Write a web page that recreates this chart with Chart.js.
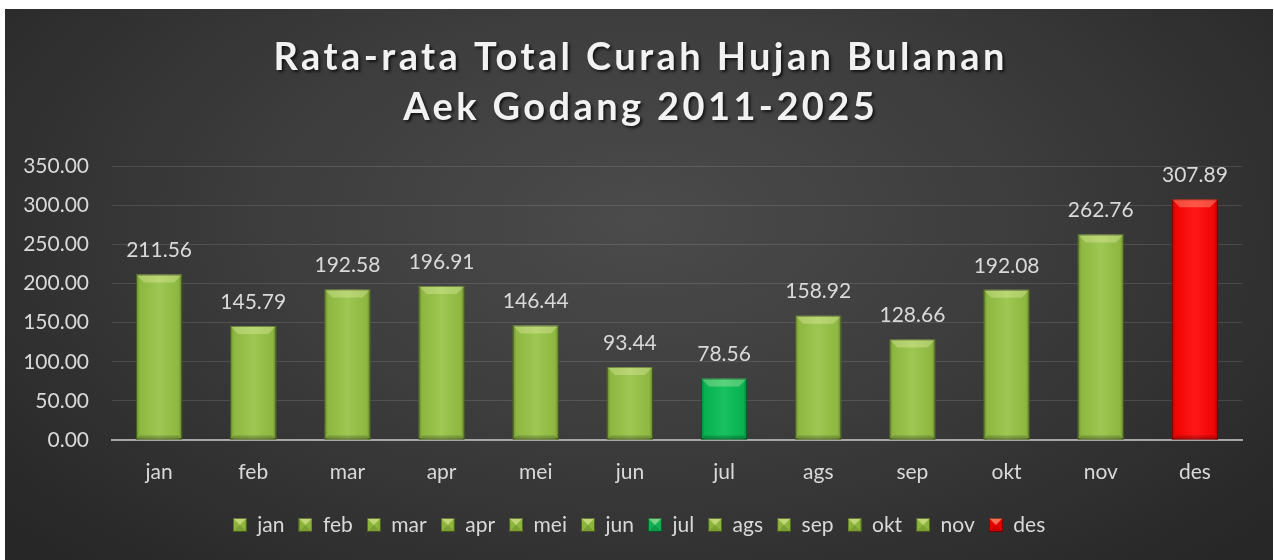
<!DOCTYPE html>
<html><head><meta charset="utf-8">
<script src="https://cdn.jsdelivr.net/npm/chart.js@4.4.1/dist/chart.umd.min.js"></script>
<style>
html,body{margin:0;padding:0;background:#fff;width:1274px;height:560px;overflow:hidden}
#box{position:absolute;left:5px;top:9px;width:1268px;height:551px;background:radial-gradient(ellipse 65% 85% at 50% 38%, #4b4b4b 0%, #3d3d3d 45%, #272727 100%)}
canvas{display:block}
</style></head><body>
<div id="box"><canvas id="c" width="1268" height="551"></canvas></div>
<script>
const titleLines = ['Rata-rata Total Curah Hujan Bulanan', 'Aek Godang 2011-2025'];
const categories = ['jan','feb','mar','apr','mei','jun','jul','ags','sep','okt','nov','des'];
const values = [211.56,145.79,192.58,196.91,146.44,93.44,78.56,158.92,128.66,192.08,262.76,307.89];
const barColors = ['#97c346','#97c346','#97c346','#97c346','#97c346','#97c346','#08bd55','#97c346','#97c346','#97c346','#97c346','#ff0505'];
const legendColors = ['#8cb53c','#8cb53c','#8cb53c','#8cb53c','#8cb53c','#8cb53c','#10b054','#8cb53c','#8cb53c','#8cb53c','#8cb53c','#e80000'];
const yTicks = {min:0, max:350, step:50};

const FONT = 'Lato, "Open Sans", sans-serif';
const TEXT = '#d9d9d9';
const TITLE_SPACING = 3.4;

function makeLegendIcon(color){
  const s = 14, c = document.createElement('canvas');
  c.width = s; c.height = s;
  const x = c.getContext('2d');
  x.fillStyle = color; x.fillRect(0,0,s,s);
  x.beginPath(); x.moveTo(0,0); x.lineTo(s,0); x.lineTo(s/2,s/2); x.closePath();
  x.fillStyle = 'rgba(255,255,190,0.45)'; x.fill();
  x.beginPath(); x.moveTo(0,s); x.lineTo(s,s); x.lineTo(s/2,s/2); x.closePath();
  x.fillStyle = 'rgba(0,0,0,0.12)'; x.fill();
  x.strokeStyle = 'rgba(0,0,0,0.45)'; x.lineWidth = 1; x.strokeRect(0.5,0.5,s-1,s-1);
  return c;
}
const legendIcons = legendColors.map(makeLegendIcon);

const bevelPlugin = {
  id:'bevel',
  afterDatasetsDraw(chart){
    const ctx = chart.ctx;
    const meta = chart.getDatasetMeta(0);
    meta.data.forEach((bar)=>{
      const p = bar.getProps(['x','y','base','width'], true);
      const l = p.x - p.width/2, r = p.x + p.width/2, t = p.y, b = p.base;
      const w = p.width, h = b - t;
      const bv = 8, bb = 4;
      ctx.save();
      const g = ctx.createLinearGradient(l,0,r,0);
      g.addColorStop(0,'rgba(0,0,0,0.30)');
      g.addColorStop(0.08,'rgba(0,0,0,0.06)');
      g.addColorStop(0.5,'rgba(255,255,255,0.07)');
      g.addColorStop(0.92,'rgba(0,0,0,0.06)');
      g.addColorStop(1,'rgba(0,0,0,0.35)');
      ctx.fillStyle = g; ctx.fillRect(l,t,w,h);
      ctx.beginPath(); ctx.moveTo(l,t); ctx.lineTo(r,t); ctx.lineTo(r-bv,t+bv); ctx.lineTo(l+bv,t+bv); ctx.closePath();
      ctx.fillStyle = 'rgba(255,255,200,0.28)'; ctx.fill();
      ctx.beginPath(); ctx.moveTo(l,b); ctx.lineTo(r,b); ctx.lineTo(r-bb,b-bb); ctx.lineTo(l+bb,b-bb); ctx.closePath();
      ctx.fillStyle = 'rgba(0,0,0,0.18)'; ctx.fill();
      ctx.strokeStyle = 'rgba(0,0,0,0.35)'; ctx.lineWidth = 1;
      ctx.strokeRect(l+0.5,t+0.5,w-1,h-1);
      ctx.restore();
    });
  }
};

const labelPlugin = {
  id:'valueLabels',
  afterDatasetsDraw(chart){
    const ctx = chart.ctx;
    const meta = chart.getDatasetMeta(0);
    ctx.save();
    ctx.font = '21px ' + FONT;
    ctx.fillStyle = TEXT;
    ctx.textAlign = 'center';
    ctx.textBaseline = 'middle';
    meta.data.forEach((bar,i)=>{
      ctx.fillText(values[i].toFixed(2), bar.x, bar.y - 24);
    });
    ctx.restore();
  }
};

const titleStylePlugin = {
  id:'titleStyle',
  beforeDraw(chart){
    const tb = chart.titleBlock;
    if (tb && !tb._patched){
      const orig = tb.draw.bind(tb);
      tb.draw = function(){
        const ctx = this.ctx;
        ctx.save();
        ctx.letterSpacing = TITLE_SPACING + 'px';
        ctx.translate(TITLE_SPACING/2, 0);
        ctx.shadowColor = 'rgba(0,0,0,0.7)';
        ctx.shadowOffsetX = 2; ctx.shadowOffsetY = 2; ctx.shadowBlur = 3;
        orig();
        ctx.restore();
      };
      tb._patched = true;
    }
  }
};

new Chart(document.getElementById('c'), {
  type:'bar',
  data:{
    labels: categories,
    datasets:[{
      label:'Curah Hujan',
      data: values,
      backgroundColor: barColors,
      borderWidth:0,
      categoryPercentage:1,
      barPercentage:0.49
    }]
  },
  options:{
    responsive:false,
    animation:false,
    layout:{padding:{left:0,right:0,top:0,bottom:14.5}},
    plugins:{
      title:{
        display:true,
        text:titleLines,
        color:'#f2f2f2',
        font:{family:FONT,size:38,weight:'bold',lineHeight:1.32},
        padding:{top:24,bottom:33}
      },
      legend:{
        display:true,
        position:'bottom',
        onClick:null,
        labels:{
          color:TEXT,
          font:{family:FONT,size:21},
          boxWidth:14, boxHeight:14, padding:14,
          usePointStyle:true,
          generateLabels(){
            return categories.map((c,i)=>({text:c, fillStyle:legendColors[i], strokeStyle:'rgba(0,0,0,0.5)', lineWidth:1, pointStyle:legendIcons[i], hidden:false, index:i, datasetIndex:0, fontColor:TEXT}));
          }
        }
      },
      tooltip:{enabled:false}
    },
    scales:{
      x:{
        grid:{display:false, drawTicks:false},
        border:{display:true, color:'#a6a6a6', width:2},
        ticks:{color:TEXT, font:{family:FONT,size:21}, padding:20},
        afterFit(s){ s.height = 60.5; }
      },
      y:{
        min:yTicks.min, max:yTicks.max,
        grid:{color:'rgba(255,255,255,0.12)', lineWidth:1, drawTicks:false},
        border:{display:false},
        ticks:{stepSize:yTicks.step, color:TEXT, font:{family:FONT,size:21}, padding:23, callback:v=>Number(v).toFixed(2)},
        afterFit(s){ s.width = 107; }
      },
      yRight:{
        position:'right',
        min:yTicks.min, max:yTicks.max,
        grid:{display:false, drawTicks:false},
        border:{display:false},
        ticks:{display:false},
        afterFit(s){ s.width = 31; }
      }
    }
  },
  plugins:[bevelPlugin,labelPlugin,titleStylePlugin]
});
</script>
</body></html>
